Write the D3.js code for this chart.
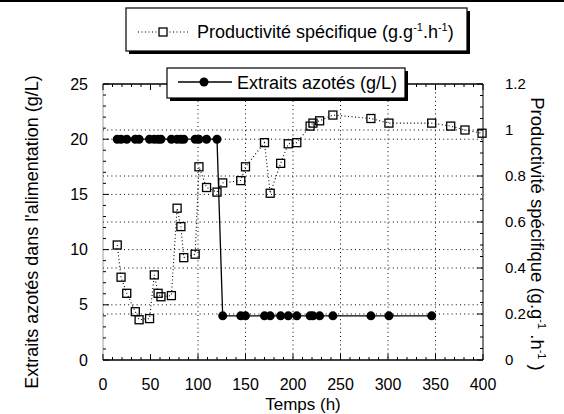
<!DOCTYPE html>
<html>
<head>
<meta charset="utf-8">
<script src="https://cdn.jsdelivr.net/npm/d3@7"></script>
<style>
  html, body { margin: 0; padding: 0; background: #fff; }
  svg { display: block; font-family: "Liberation Sans", Arial, Helvetica, sans-serif; }
</style>
</head>
<body>
<svg id="chart" width="564" height="414"></svg>
<script>
// ---- data ----
const times = [15,19,25,34,38,49,54,58,61,72,78,82,85,97,101,109,120,126,145,150,170,176,187,195,204,218,221,228,242,282,301,346,366,381,399];
const productivite = [0.50,0.36,0.29,0.21,0.175,0.18,0.37,0.29,0.275,0.28,0.66,0.58,0.445,0.46,0.84,0.75,0.73,0.77,0.78,0.84,0.945,0.725,0.855,0.94,0.945,1.017,1.03,1.04,1.065,1.05,1.03,1.03,1.017,1.0,0.986];
const extraitsAzotes = [20,20,20,20,20,20,20,20,20,20,20,20,20,20,20,20,20,4,4,4,4,4,4,4,4,4,4,4,4,4,4,4,null,null,null];
const xTicks = [0,50,100,150,200,250,300,350,400];
const yLeftTicks = [0,5,10,15,20,25];
const yRightTicks = [0,0.2,0.4,0.6,0.8,1,1.2];
const xGrid = [100,150,200,250,300,350];
const yLeftGrid = [5,10,15,20];
const yRightGrid = [0.2,0.4,0.6,0.8,1.0];

const svg = d3.select("#chart");
const L = 103, R = 483, T = 84, B = 360;
const x = d3.scaleLinear().domain([0,400]).range([L,R]);
const yL = d3.scaleLinear().domain([0,25]).range([B,T]);
const yR = d3.scaleLinear().domain([0,1.2]).range([B,T]);

const rows = times.map((t,i) => ({t, p: productivite[i], a: extraitsAzotes[i]}));

// scan edge line at very top
svg.append("line").attr("x1",0).attr("x2",564).attr("y1",1).attr("y2",1)
  .attr("stroke","#000").attr("stroke-width",2);

// ---- grid ----
const grid = svg.append("g").attr("stroke","#000").attr("stroke-width",1).attr("stroke-dasharray","1,3.2").attr("fill","none");
xGrid.forEach(v => grid.append("line").attr("x1",x(v)).attr("x2",x(v)).attr("y1",T).attr("y2",B));
yLeftGrid.forEach(v => grid.append("line").attr("x1",L).attr("x2",R).attr("y1",yL(v)).attr("y2",yL(v)));
yRightGrid.forEach(v => grid.append("line").attr("x1",L).attr("x2",R).attr("y1",yR(v)).attr("y2",yR(v)));

// ---- series: productivité (dotted + squares) ----
const lineP = d3.line().x(d => x(d.t)).y(d => yR(d.p));
svg.append("path").datum(rows).attr("d", lineP)
  .attr("fill","none").attr("stroke","#000").attr("stroke-width",1.1).attr("stroke-dasharray","1,2.5");

// ---- series: extraits azotés (solid + dots) ----
const lineA = d3.line().defined(d => d.a != null).x(d => x(d.t)).y(d => yL(d.a));
svg.append("path").datum(rows).attr("d", lineA)
  .attr("fill","none").attr("stroke","#000").attr("stroke-width",1.3);

const sq = 8;
svg.append("g").selectAll("rect").data(rows).join("rect")
  .attr("x", d => x(d.t) - sq/2).attr("y", d => yR(d.p) - sq/2)
  .attr("width", sq).attr("height", sq)
  .attr("fill","none").attr("stroke","#000").attr("stroke-width",1.3);

svg.append("g").selectAll("circle").data(rows.filter(d => d.a != null)).join("circle")
  .attr("cx", d => x(d.t)).attr("cy", d => yL(d.a)).attr("r", 4.5).attr("fill","#000");

// ---- axes frame ----
const ax = svg.append("g").attr("stroke","#000").attr("fill","none");
ax.append("line").attr("x1",L).attr("x2",R).attr("y1",B).attr("y2",B).attr("stroke-width",1.5);
ax.append("line").attr("x1",L).attr("x2",R).attr("y1",T).attr("y2",T).attr("stroke-width",1.5);
ax.append("line").attr("x1",R).attr("x2",R).attr("y1",T).attr("y2",B).attr("stroke-width",1);
ax.append("line").attr("x1",L).attr("x2",L).attr("y1",T).attr("y2",B).attr("stroke-width",0.7).attr("stroke","#777");

// x ticks (bottom pointing up, top pointing down), minor every 10
d3.range(0,401,10).forEach(v => {
  const len = v % 50 === 0 ? 6 : 3;
  ax.append("line").attr("x1",x(v)).attr("x2",x(v)).attr("y1",B).attr("y2",B-len).attr("stroke-width",1);
  ax.append("line").attr("x1",x(v)).attr("x2",x(v)).attr("y1",T).attr("y2",T+len).attr("stroke-width",1);
});
// left ticks every 1
d3.range(0,26,1).forEach(v => {
  const len = v % 5 === 0 ? 6 : 3;
  ax.append("line").attr("x1",L).attr("x2",L+len).attr("y1",yL(v)).attr("y2",yL(v)).attr("stroke-width",1);
});
// right ticks every 0.05
d3.range(0,25,1).forEach(k => {
  const v = k*0.05;
  const len = k % 4 === 0 ? 6 : 3;
  ax.append("line").attr("x1",R).attr("x2",R-len).attr("y1",yR(v)).attr("y2",yR(v)).attr("stroke-width",1);
});

// tick labels
const lab = svg.append("g").attr("fill","#000");
xTicks.forEach(v => lab.append("text").attr("font-size",16).attr("x",x(v)).attr("y",390).attr("text-anchor","middle").text(v));
yLeftTicks.forEach(v => lab.append("text").attr("font-size",16).attr("x",88).attr("y",yL(v)).attr("dy","0.35em").attr("text-anchor","end").text(v));
yRightTicks.forEach(v => lab.append("text").attr("font-size",15).attr("x",505).attr("y",yR(v)).attr("dy","0.35em").attr("text-anchor","start").text(v));

// axis titles
svg.append("text").attr("x",303).attr("y",410).attr("text-anchor","middle").attr("font-size",17).text("Temps (h)");
svg.append("text").attr("transform","translate(38,232) rotate(-90)").attr("text-anchor","middle").attr("font-size",18)
  .text("Extraits azotés dans l'alimentation (g/L)");
const rt = svg.append("text").attr("transform","translate(531,234) rotate(90)").attr("text-anchor","middle").attr("font-size",18.5);
rt.append("tspan").text("Productivité spécifique (g.g");
rt.append("tspan").attr("dy",-7).attr("font-size",11).text("-1");
rt.append("tspan").attr("dy",7).text(" .h");
rt.append("tspan").attr("dy",-7).attr("font-size",11).text("-1");
rt.append("tspan").attr("dy",7).text(" )");

// ---- legends ----
function box(x0,y0,w,h){
  svg.append("rect").attr("x",x0+3).attr("y",y0+3).attr("width",w).attr("height",h).attr("fill","#000");
  svg.append("rect").attr("x",x0).attr("y",y0).attr("width",w).attr("height",h).attr("fill","#fff").attr("stroke","#000").attr("stroke-width",1.2);
}
box(126,8,341,43);
svg.append("line").attr("x1",138).attr("x2",188).attr("y1",32).attr("y2",32)
  .attr("stroke","#000").attr("stroke-width",1.1).attr("stroke-dasharray","1,2.5");
svg.append("rect").attr("x",159).attr("y",28).attr("width",8).attr("height",8).attr("fill","#fff").attr("stroke","#000").attr("stroke-width",1.3);
const lt = svg.append("text").attr("x",197).attr("y",38).attr("font-size",18);
lt.append("tspan").text("Productivité spécifique (g.g");
lt.append("tspan").attr("dy",-7).attr("font-size",11).text("-1");
lt.append("tspan").attr("dy",7).text(".h");
lt.append("tspan").attr("dy",-7).attr("font-size",11).text("-1");
lt.append("tspan").attr("dy",7).text(")");

box(167,68,238,30);
svg.append("line").attr("x1",178).attr("x2",232).attr("y1",82).attr("y2",82).attr("stroke","#000").attr("stroke-width",1.3);
svg.append("circle").attr("cx",204).attr("cy",82).attr("r",4.5).attr("fill","#000");
svg.append("text").attr("x",237).attr("y",89).attr("font-size",18).text("Extraits azotés (g/L)");
</script>
</body>
</html>
